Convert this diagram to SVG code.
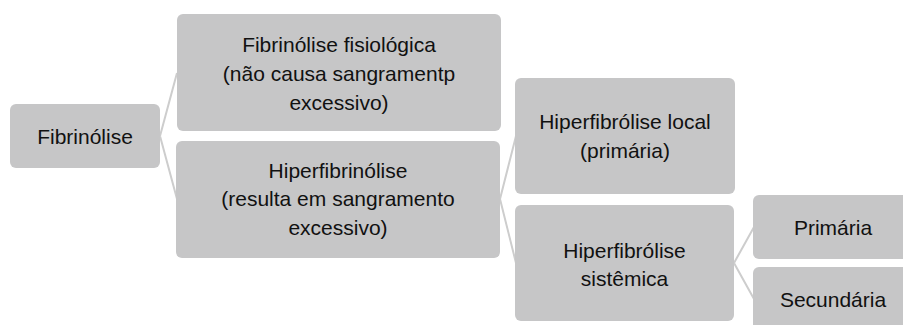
<svg xmlns="http://www.w3.org/2000/svg" width="903" height="325" viewBox="0 0 903 325">
<style>
.box{fill:#c6c6c7;}
.t{font-family:"Liberation Sans",Arial,sans-serif;font-size:21px;fill:#111;text-anchor:middle;}
.c{stroke:#cdcdcd;stroke-width:2;fill:none;}
</style>
<rect width="903" height="325" fill="#fff"/>
<g id="connectors">
<path class="c" d="M160,136 L177,73 M160,136 L177,199"/>
<path class="c" d="M500,199 L516,136 M500,199 L516,263"/>
<path class="c" d="M734,263 L754,227 M734,263 L754,299"/>
</g>
<g id="n-fibrinolise">
<rect class="box" x="10" y="104" width="150" height="64" rx="6"/>
<text class="t" x="85" y="143.5">Fibrinólise</text>
</g>
<g id="n-fisiologica">
<rect class="box" x="177" y="14" width="324" height="117" rx="6"/>
<text class="t" x="339" y="52">Fibrinólise fisiológica</text>
<text class="t" x="339" y="81">(não causa sangramentp</text>
<text class="t" x="339" y="110">excessivo)</text>
</g>
<g id="n-hiperfibrinolise">
<rect class="box" x="176" y="141" width="324" height="117" rx="6"/>
<text class="t" x="338" y="177.5">Hiperfibrinólise</text>
<text class="t" x="338" y="206">(resulta em sangramento</text>
<text class="t" x="338" y="234.5">excessivo)</text>
</g>
<g id="n-local">
<rect class="box" x="515" y="78" width="220" height="116" rx="6"/>
<text class="t" x="625" y="129">Hiperfibrólise local</text>
<text class="t" x="625" y="157.5">(primária)</text>
</g>
<g id="n-sistemica">
<rect class="box" x="515" y="205" width="219" height="116" rx="6"/>
<text class="t" x="624.5" y="257.5">Hiperfibrólise</text>
<text class="t" x="624.5" y="285.5">sistêmica</text>
</g>
<g id="n-primaria">
<rect class="box" x="753" y="195" width="160" height="64" rx="6"/>
<text class="t" x="833" y="234.5">Primária</text>
</g>
<g id="n-secundaria">
<rect class="box" x="753" y="267" width="160" height="64" rx="6"/>
<text class="t" x="833" y="306.5">Secundária</text>
</g>
</svg>
